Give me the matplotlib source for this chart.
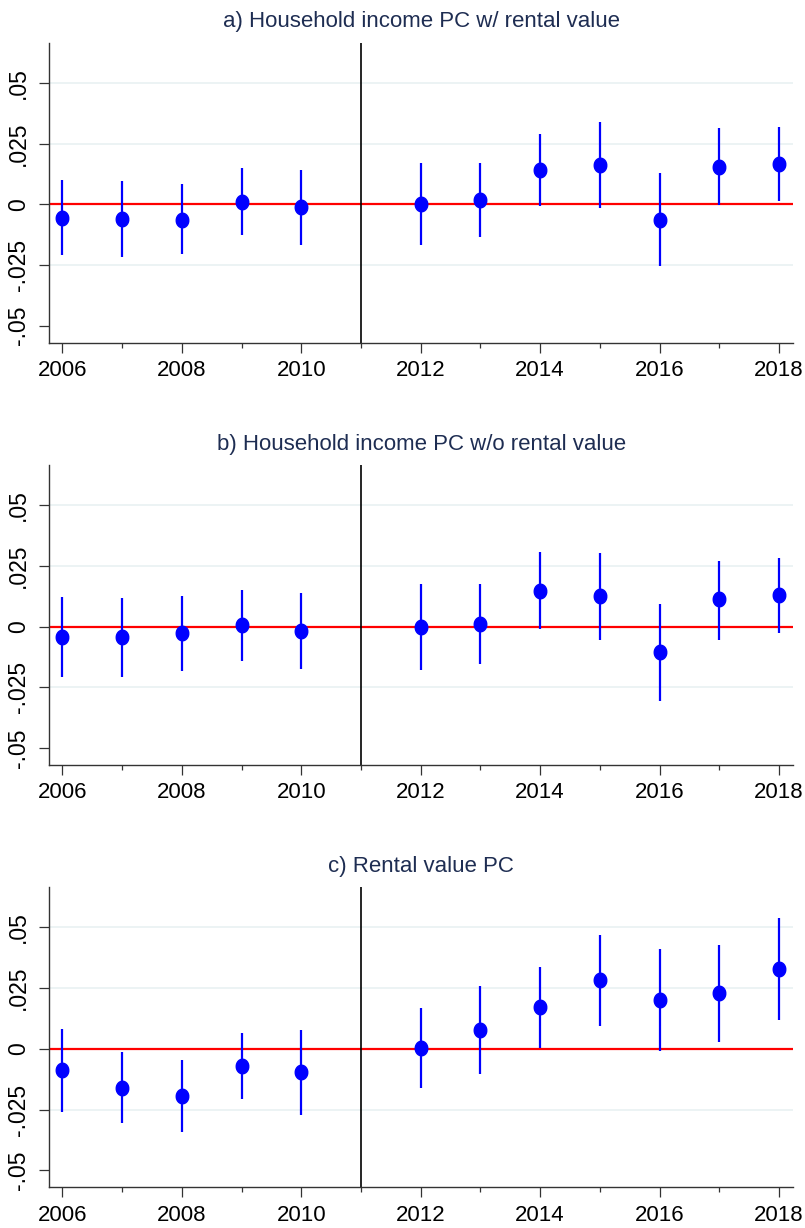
import matplotlib
matplotlib.use('Agg')
import matplotlib.pyplot as plt
import numpy as np

# Роки спостережень
years = [2006, 2007, 2008, 2009, 2010, 2012, 2013, 2014, 2015, 2016, 2017, 2018]

# a) Household income PC w/ rental value
est_a = [-0.0055, -0.0062, -0.0063, 0.0010, -0.0011, 0.0000, 0.0016, 0.0140, 0.0162, -0.0065, 0.0155, 0.0166]
lo_a = [-0.0210, -0.0217, -0.0206, -0.0126, -0.0166, -0.0168, -0.0135, -0.0007, -0.0015, -0.0254, -0.0004, 0.0012]
hi_a = [0.0100, 0.0096, 0.0082, 0.0148, 0.0143, 0.0169, 0.0169, 0.0289, 0.0339, 0.0128, 0.0315, 0.0320]

# b) Household income PC w/o rental value
est_b = [-0.0045, -0.0045, -0.0027, 0.0007, -0.0018, 0.0000, 0.0011, 0.0147, 0.0124, -0.0106, 0.0113, 0.0128]
lo_b = [-0.0207, -0.0206, -0.0181, -0.0140, -0.0174, -0.0177, -0.0155, -0.0012, -0.0054, -0.0305, -0.0056, -0.0027]
hi_b = [0.0121, 0.0118, 0.0126, 0.0151, 0.0139, 0.0176, 0.0176, 0.0305, 0.0301, 0.0093, 0.0269, 0.0283]

# c) Rental value PC
est_c = [-0.0088, -0.0161, -0.0194, -0.0070, -0.0095, 0.0003, 0.0078, 0.0172, 0.0282, 0.0201, 0.0229, 0.0328]
lo_c = [-0.0260, -0.0305, -0.0341, -0.0206, -0.0271, -0.0162, -0.0102, 0.0003, 0.0096, -0.0010, 0.0029, 0.0118]
hi_c = [0.0082, -0.0014, -0.0048, 0.0067, 0.0078, 0.0169, 0.0257, 0.0338, 0.0467, 0.0409, 0.0427, 0.0540]

titles = ['a) Household income PC w/ rental value',
          'b) Household income PC w/o rental value',
          'c) Rental value PC']
ytick_vals = [-0.05, -0.025, 0, 0.025, 0.05]
ytick_labels = ['-.05', '-.025', '0', '.025', '.05']
xtick_vals = [2006, 2008, 2010, 2012, 2014, 2016, 2018]
panels = [(est_a, lo_a, hi_a), (est_b, lo_b, hi_b), (est_c, lo_c, hi_c)]

plt.rcParams['font.family'] = ['Liberation Sans Narrow', 'Liberation Sans', 'DejaVu Sans']

# трохи витягнутий по вертикалі маркер (як у Stata-експорті)
t = np.linspace(0, 2 * np.pi, 40)
ellipse = list(zip(0.86 * np.cos(t), np.sin(t)))

fig = plt.figure(figsize=(8.05, 12.28), dpi=100)

# Позиції панелей (у пікселях від верху)
W, H = 805, 1228
tops = [42.7, 465, 887.3]

for i, (est, lo, hi) in enumerate(panels):
    top = tops[i]
    ax = fig.add_axes([49.3 / W, 1 - (top + 300) / H, 744 / W, 300 / H])

    # сітка
    for g in [-0.025, 0.025, 0.05]:
        ax.axhline(g, color='#eaf2f3', lw=1.3, zorder=0)

    ax.axhline(0, color='#ff0000', lw=1.6, zorder=1)
    ax.axvline(2011, color='black', lw=1.2, zorder=1)

    # довірчі інтервали і точкові оцінки
    ax.vlines(years, lo, hi, color='#0000ff', lw=1.6, zorder=2)
    ax.plot(years, est, linestyle='none', marker=ellipse, markersize=10.5,
            color='#0000ff', zorder=3)

    ax.set_xlim(2005.78, 2018.24)
    ax.set_ylim(-0.057, 0.0665)

    ax.set_xticks(xtick_vals)
    ax.set_xticklabels([str(x) for x in xtick_vals])
    ax.set_xticks([2007, 2009, 2011, 2013, 2015, 2017], minor=True)
    ax.set_yticks(ytick_vals)
    ax.set_yticklabels(ytick_labels, rotation=90, va='center')

    ax.tick_params(axis='x', which='major', length=7.5, width=0.9, color='#333333',
                   labelsize=16, pad=5)
    ax.tick_params(axis='x', which='minor', length=3.5, width=0.9, color='#333333')
    ax.tick_params(axis='y', length=7, width=0.9, color='#333333', labelsize=16.5, pad=7)

    for s in ['top', 'right']:
        ax.spines[s].set_visible(False)
    for s in ['left', 'bottom']:
        ax.spines[s].set_color('#333333')
        ax.spines[s].set_linewidth(1.0)

    ax.set_title(titles[i], fontsize=16, color='#1e2d52', pad=11)

fig.savefig('out.png', dpi=100)
